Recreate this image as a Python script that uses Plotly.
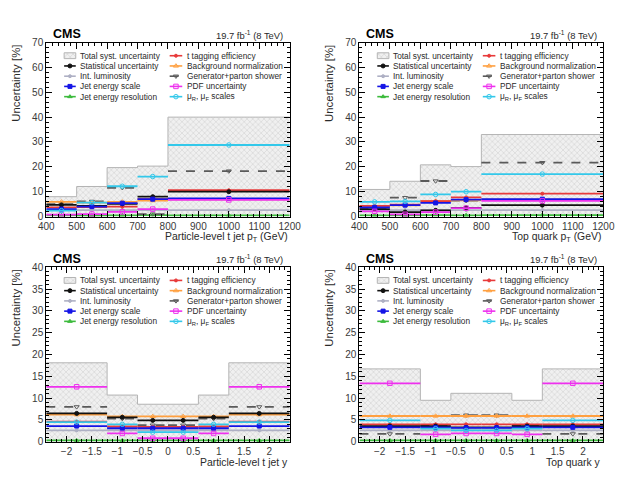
import plotly.graph_objects as go

W, H = 625, 477

# ---------------- data ----------------
pt_edges = [400, 500, 600, 700, 800, 1200]
y_edges = [-2.4, -1.2, -0.6, 0.0, 0.6, 1.2, 2.4]

# particle-level t jet pT
jetpt_total = [8.0, 12.1, 19.7, 20.3, 40.0]
jetpt_stat = [4.7, 4.3, 5.1, 8.0, 10.0]
jetpt_lumi = [2.6, 2.6, 2.6, 2.6, 2.6]
jetpt_jes = [3.0, 4.0, 5.4, 7.0, 7.3]
jetpt_jer = [0.5, 0.4, 0.5, 0.6, 0.5]
jetpt_ttag = [3.7, 3.8, 4.0, 7.0, 10.6]
jetpt_bkg = [5.9, 5.6, 5.9, 6.4, 6.9]
jetpt_gen = [5.0, 6.1, 11.6, 1.0, 18.3]
jetpt_pdf = [0.8, 1.0, 1.9, 3.0, 6.7]
jetpt_scale = [2.4, 5.6, 12.2, 16.1, 28.8]

# top quark pT
toppt_total = [10.9, 14.2, 20.8, 20.1, 33.0]
toppt_stat = [3.0, 1.8, 2.5, 3.5, 4.6]
toppt_lumi = [2.6, 2.6, 2.6, 2.6, 2.6]
toppt_jes = [3.7, 4.6, 5.5, 6.8, 7.0]
toppt_jer = [0.5, 0.5, 0.6, 0.5, 0.6]
toppt_ttag = [4.3, 4.8, 6.2, 7.7, 9.2]
toppt_bkg = [4.0, 4.5, 6.2, 6.5, 6.8]
toppt_gen = [3.5, 7.6, 14.3, 6.4, 21.7]
toppt_pdf = [2.1, 0.9, 1.8, 3.4, 6.3]
toppt_scale = [5.9, 6.1, 8.9, 10.0, 17.1]

# particle-level t jet y
jety_total = [18.1, 10.7, 8.6, 8.6, 10.7, 18.1]
jety_stat = [6.5, 5.6, 4.9, 4.9, 5.6, 6.5]
jety_lumi = [2.6, 2.6, 2.6, 2.6, 2.6, 2.6]
jety_jes = [3.6, 3.1, 3.1, 3.1, 3.1, 3.6]
jety_jer = [0.3, 0.3, 0.3, 0.3, 0.3, 0.3]
jety_ttag = [4.6, 3.5, 3.4, 3.4, 3.5, 4.6]
jety_bkg = [6.2, 5.8, 5.8, 5.8, 5.8, 6.2]
jety_gen = [8.0, 5.3, 3.8, 3.8, 5.3, 8.0]
jety_pdf = [12.6, 1.9, 0.8, 0.8, 1.9, 12.6]
jety_scale = [4.5, 4.0, 2.2, 2.2, 4.0, 4.5]

# top quark y
topy_total = [16.7, 9.5, 11.1, 11.1, 9.5, 16.7]
topy_stat = [3.6, 3.6, 3.3, 3.3, 3.6, 3.6]
topy_lumi = [2.6, 2.6, 2.6, 2.6, 2.6, 2.6]
topy_jes = [3.3, 3.3, 3.2, 3.2, 3.3, 3.3]
topy_jer = [0.3, 0.3, 0.3, 0.3, 0.3, 0.3]
topy_ttag = [4.0, 4.0, 4.0, 4.0, 4.0, 4.0]
topy_bkg = [5.9, 5.9, 5.9, 5.9, 5.9, 5.9]
topy_gen = [1.8, 3.8, 6.1, 6.1, 3.8, 1.8]
topy_pdf = [13.4, 1.7, 1.9, 1.9, 1.7, 13.4]
topy_scale = [4.9, 3.0, 2.6, 2.6, 3.0, 4.9]

legend_col1 = ["Total syst. uncertainty", "Statistical uncertainty", "Int. luminosity",
               "Jet energy scale", "Jet energy resolution"]
legend_col2 = ["t tagging efficiency", "Background normalization", "Generator+parton shower",
               "PDF uncertainty", "μ<sub>R</sub>, μ<sub>F</sub> scales"]

x_titles = ["Particle-level t jet p<sub>T</sub> (GeV)", "Top quark p<sub>T</sub> (GeV)",
            "Particle-level t jet y", "Top quark y"]

# ---------------- styles ----------------
STYLE = {
    "stat": dict(color="#111111", dash="solid", symbol="circle", size=4),
    "lumi": dict(color="#aeb0c4", dash="solid", symbol="circle", size=3),
    "jes": dict(color="#1515e6", dash="solid", symbol="square", size=4),
    "jer": dict(color="#3dbb3d", dash="solid", symbol="triangle-up", size=4),
    "ttag": dict(color="#e83a3a", dash="solid", symbol="circle", size=3),
    "bkg": dict(color="#ffa040", dash="solid", symbol="triangle-up-open", size=4.5),
    "gen": dict(color="#5a5a5a", dash="dash", symbol="triangle-down-open", size=4.5),
    "pdf": dict(color="#ee30ee", dash="solid", symbol="square-open", size=4.5),
    "scale": dict(color="#33c8ea", dash="solid", symbol="circle-open", size=4.5),
}
DRAW_ORDER = ["lumi", "jer", "gen", "bkg", "ttag", "stat", "jes", "pdf", "scale"]
FILL_PATTERN = dict(shape="x", fgcolor="#b8b8b8", bgcolor="#f0f0f0", size=4, solidity=0.3)
TXT = "#2a2a2a"

panels = [
    dict(edges=pt_edges, total=jetpt_total,
         s=dict(stat=jetpt_stat, lumi=jetpt_lumi, jes=jetpt_jes, jer=jetpt_jer, ttag=jetpt_ttag,
                bkg=jetpt_bkg, gen=jetpt_gen, pdf=jetpt_pdf, scale=jetpt_scale),
         xr=[400, 1200], yr=[0, 70], xd=100, xm=20, yd=10, ym=2,
         px=(39.5, 291), py=(37.5, 216)),
    dict(edges=pt_edges, total=toppt_total,
         s=dict(stat=toppt_stat, lumi=toppt_lumi, jes=toppt_jes, jer=toppt_jer, ttag=toppt_ttag,
                bkg=toppt_bkg, gen=toppt_gen, pdf=toppt_pdf, scale=toppt_scale),
         xr=[400, 1200], yr=[0, 70], xd=100, xm=20, yd=10, ym=2,
         px=(363, 615), py=(37.5, 216)),
    dict(edges=y_edges, total=jety_total,
         s=dict(stat=jety_stat, lumi=jety_lumi, jes=jety_jes, jer=jety_jer, ttag=jety_ttag,
                bkg=jety_bkg, gen=jety_gen, pdf=jety_pdf, scale=jety_scale),
         xr=[-2.4, 2.4], yr=[0, 40], xd=0.5, xm=0.1, yd=5, ym=1,
         px=(39.5, 291), py=(268, 447)),
    dict(edges=y_edges, total=topy_total,
         s=dict(stat=topy_stat, lumi=topy_lumi, jes=topy_jes, jer=topy_jer, ttag=topy_ttag,
                bkg=topy_bkg, gen=topy_gen, pdf=topy_pdf, scale=topy_scale),
         xr=[-2.4, 2.4], yr=[0, 40], xd=0.5, xm=0.1, yd=5, ym=1,
         px=(363, 615), py=(268, 447)),
]


def fx(x):
    return x / W


def fy(y):
    return 1 - y / H


fig = go.Figure()
layout = dict(width=W, height=H, margin=dict(l=0, r=0, t=0, b=0),
              paper_bgcolor="white", plot_bgcolor="rgba(0,0,0,0)",
              showlegend=False, font=dict(family="Liberation Sans, Arial", color=TXT))
annotations = []

for i, p in enumerate(panels, start=1):
    xa, ya = f"x{i}", f"y{i}"
    edges = p["edges"]
    centers = [(a + b) / 2 for a, b in zip(edges[:-1], edges[1:])]
    # total systematic: hatched step histogram
    fig.add_trace(go.Scatter(x=edges, y=p["total"] + [p["total"][-1]], mode="lines",
                             line=dict(shape="hv", color="#b4b4b4", width=1),
                             fill="tozeroy", fillpattern=FILL_PATTERN,
                             xaxis=xa, yaxis=ya, hoverinfo="skip"))
    for key in DRAW_ORDER:
        st = STYLE[key]
        vals = p["s"][key]
        xs, ys = [], []
        for lo, hi, v in zip(edges[:-1], edges[1:], vals):
            xs += [lo, hi, None]
            ys += [v, v, None]
        fig.add_trace(go.Scatter(x=xs, y=ys, mode="lines",
                                 line=dict(color=st["color"], width=1.8, dash=st["dash"]),
                                 xaxis=xa, yaxis=ya, hoverinfo="skip"))
        fig.add_trace(go.Scatter(x=centers, y=vals, mode="markers",
                                 marker=dict(color=st["color"], symbol=st["symbol"], size=st["size"],
                                             line=dict(color=st["color"], width=1)),
                                 xaxis=xa, yaxis=ya, hoverinfo="skip"))
    common = dict(showline=True, linecolor="black", linewidth=1, mirror="allticks",
                  ticks="inside", ticklen=6, tickcolor="black", showgrid=False, zeroline=False,
                  tickfont=dict(size=10, color="#3a3a3a"))
    sfx = "" if i == 1 else str(i)
    layout["xaxis" + sfx] = dict(common, domain=[fx(p["px"][0]), fx(p["px"][1])], range=p["xr"],
                                 dtick=p["xd"], tick0=0, anchor="y" + sfx,
                                 minor=dict(ticks="inside", ticklen=3, tickcolor="black", dtick=p["xm"]))
    layout["yaxis" + sfx] = dict(common, domain=[fy(p["py"][1]), fy(p["py"][0])], range=p["yr"],
                                 dtick=p["yd"], tick0=0, anchor="x" + sfx,
                                 minor=dict(ticks="inside", ticklen=3, tickcolor="black", dtick=p["ym"]))

    left, right = p["px"]
    top, bottom = p["py"]
    # texts
    annotations.append(dict(text="<b>CMS</b>", x=fx(left + 5), y=fy(top - 8.5), xref="paper", yref="paper",
                            xanchor="left", yanchor="middle", showarrow=False,
                            font=dict(size=12.5, color="black")))
    annotations.append(dict(text="19.7 fb<sup>-1</sup> (8 TeV)", x=fx(right - 4.5), y=fy(top - 8),
                            xref="paper", yref="paper", xanchor="right", yanchor="middle",
                            showarrow=False, font=dict(size=9.4, color=TXT)))
    annotations.append(dict(text=x_titles[i - 1], x=fx(right), y=fy(bottom + 21), xref="paper",
                            yref="paper", xanchor="right", yanchor="middle", showarrow=False,
                            font=dict(size=10.4, color=TXT)))
    annotations.append(dict(text="Uncertainty [%]", x=fx(left - 31.5), y=fy(top), xref="paper",
                            yref="paper", xanchor="center", yanchor="top", textangle=-90,
                            showarrow=False, font=dict(size=11.4, color=TXT)))

    # legend (drawn in pixel overlay axes)
    ox, oy = left - 39.5, top - 37.5
    rows = [51, 61.5, 72, 82.5, 93]
    c1 = (58 + ox, 70 + ox)
    c2 = (167 + ox, 180 + ox)
    keys1 = [None, "stat", "lumi", "jes", "jer"]
    keys2 = ["ttag", "bkg", "gen", "pdf", "scale"]
    for cols, keys, labels in ((c1, keys1, legend_col1), (c2, keys2, legend_col2)):
        for r, key, lab in zip(rows, keys, labels):
            ry = r + oy
            if key is None:
                fig.add_trace(go.Scatter(x=[cols[0], cols[1], cols[1], cols[0], cols[0]],
                                         y=[ry - 3, ry - 3, ry + 3, ry + 3, ry - 3],
                                         mode="lines", fill="toself", fillpattern=FILL_PATTERN,
                                         line=dict(color="#b4b4b4", width=1),
                                         xaxis="x5", yaxis="y5", hoverinfo="skip"))
            else:
                st = STYLE[key]
                fig.add_trace(go.Scatter(x=[cols[0], cols[1]], y=[ry, ry], mode="lines",
                                         line=dict(color=st["color"], width=1.6, dash=st["dash"]),
                                         xaxis="x5", yaxis="y5", hoverinfo="skip"))
                fig.add_trace(go.Scatter(x=[(cols[0] + cols[1]) / 2], y=[ry], mode="markers",
                                         marker=dict(color=st["color"], symbol=st["symbol"], size=st["size"],
                                                     line=dict(color=st["color"], width=1)),
                                         xaxis="x5", yaxis="y5", hoverinfo="skip"))
            annotations.append(dict(text=lab, x=fx(cols[1] + 2.5), y=fy(ry), xref="paper", yref="paper",
                                    xanchor="left", yanchor="middle", showarrow=False,
                                    font=dict(size=8.3, color=TXT)))

layout["xaxis5"] = dict(domain=[0, 1], range=[0, W], visible=False, anchor="y5", fixedrange=True)
layout["yaxis5"] = dict(domain=[0, 1], range=[H, 0], visible=False, anchor="x5", fixedrange=True)
layout["annotations"] = annotations
fig.update_layout(**layout)
fig.write_html("out.html")
